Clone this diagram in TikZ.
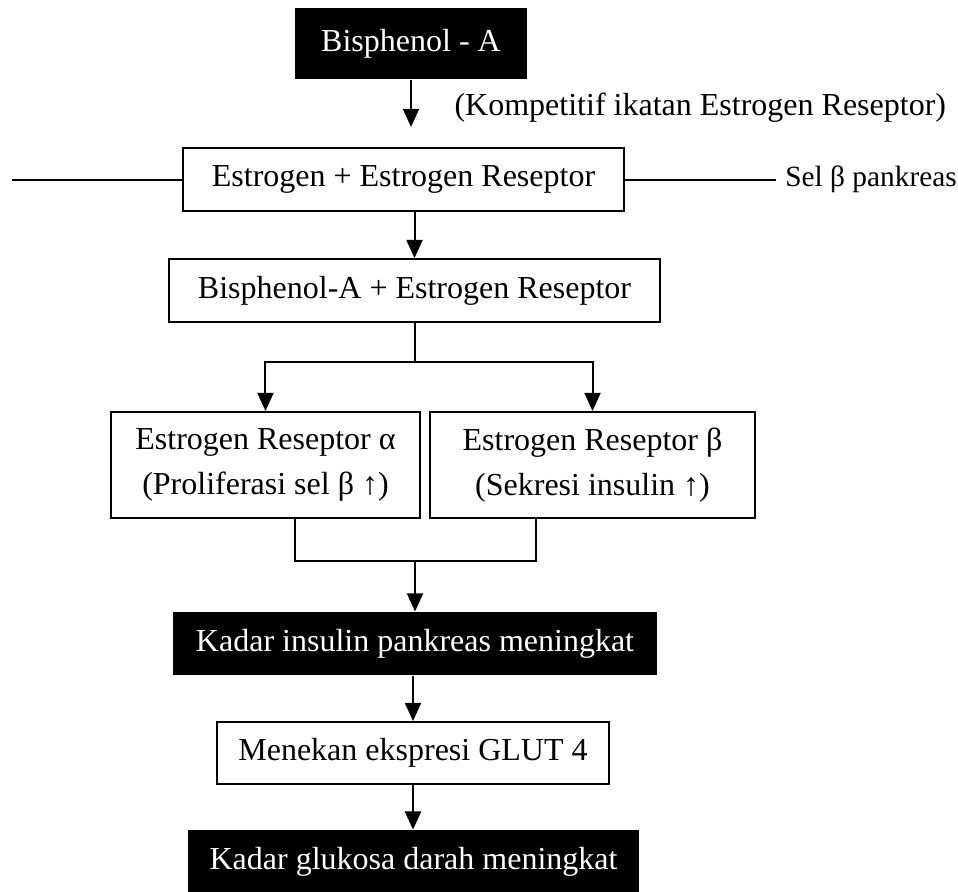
\documentclass[tikz,border=0pt]{standalone}
\usepackage{fontspec}
\setmainfont{Liberation Serif}
\usetikzlibrary{arrows.meta,positioning,calc}

\begin{document}
\begin{tikzpicture}[
    box/.style={rectangle, draw, line width=0.7pt, align=center, inner sep=0pt, font=\fontsize{12}{17}\selectfont},
    blackbox/.style={rectangle, fill=black, text=white, align=center, inner sep=0pt, font=\fontsize{12}{17}\selectfont},
    flow/.style={line width=0.75pt, -{Triangle[length=6.8pt,width=6pt]}},
    link/.style={line width=0.75pt},
]
    \clip (0,0) rectangle (12.626,-11.743);

    % Source
    \node[blackbox, minimum width=3.06cm, minimum height=0.94cm] (bpa) at (5.417,-0.573) {Bisphenol - A};
    \coordinate (bpaend) at (5.417,-1.674);
    \node[anchor=west, inner sep=0pt, font=\fontsize{12}{14}\selectfont] (kompetitif) at (5.984,-1.423) {(Kompetitif ikatan Estrogen Reseptor)};

    % Receptor binding
    \node[box, minimum width=5.81cm, minimum height=0.83cm] (eer) at (5.318,-2.366) {Estrogen + Estrogen Reseptor};
    \coordinate (leftend) at (0.158,-2.366);
    \node[anchor=west, font=\fontsize{11}{13}\selectfont] (sel) at (10.227,-2.366) {Sel β pankreas};
    \node[box, minimum width=6.47cm, minimum height=0.83cm] (bper) at (5.463,-3.829) {Bisphenol-A + Estrogen Reseptor};

    % Receptor types
    \node[box, minimum width=4.07cm, minimum height=1.40cm] (era) at (3.499,-6.129) {Estrogen Reseptor α\\(Proliferasi sel β ↑)};
    \node[box, minimum width=4.28cm, minimum height=1.40cm] (erb) at (7.809,-6.129) {Estrogen Reseptor β\\(Sekresi insulin ↑)};
    \coordinate (split) at (5.463,-4.771);
    \coordinate (join) at (5.470,-7.394);

    % Effects
    \node[blackbox, minimum width=6.38cm, minimum height=0.83cm] (kip) at (5.470,-8.481) {Kadar insulin pankreas meningkat};
    \node[box, minimum width=5.17cm, minimum height=0.82cm] (glut) at (5.443,-9.925) {Menekan ekspresi GLUT 4};
    \node[blackbox, minimum width=5.94cm, minimum height=0.84cm] (kgd) at (5.450,-11.361) {Kadar glukosa darah meningkat};

    % Arrows
    \draw[flow] (bpa.south) -- (bpaend);
    \draw[link] (leftend) -- (eer.west);
    \draw[link] (eer.east) -- (sel.west);
    \draw[flow] (bper.north |- eer.south) -- (bper.north);
    \draw[link] (bper.south) -- (split);
    \draw[flow] (split) -| (era.north);
    \draw[flow] (split) -| (erb.north);
    \draw[link] (era.south -| 3.888,0) |- (join) -| (erb.south -| 7.064,0);
    \draw[flow] (join) -- (kip.north);
    \draw[flow] (glut.north |- kip.south) -- (glut.north);
    \draw[flow] (glut.south) -- (kgd.north -| glut.south);
\end{tikzpicture}
\end{document}
